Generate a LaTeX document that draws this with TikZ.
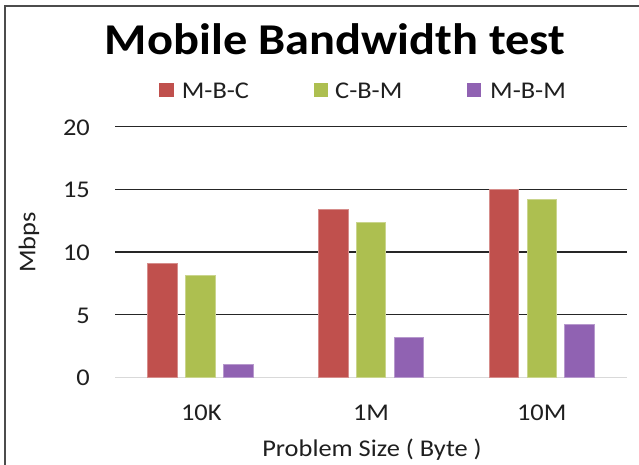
\documentclass[tikz,border=0pt]{standalone}
\usepackage{fontspec}
\setmainfont{Carlito}[FakeStretch=1.1]
\definecolor{cred}{HTML}{C0504D}
\definecolor{cgreen}{HTML}{ADBF50}
\definecolor{cpurple}{HTML}{9062B2}
\begin{document}
\begin{tikzpicture}[x=1pt,y=-1pt,
  lbl/.style={font=\fontsize{24}{28}\selectfont, inner sep=0pt, text=black!88},
  gridline/.style={line width=1.5pt, black!85},
  barbox/.style={line width=0.7pt},
  legsq/.style={minimum width=14.5pt, minimum height=13.5pt, inner sep=0pt}]
\useasboundingbox (0,0) rectangle (639,464);
\fill[white] (0,0) rectangle (639,464);
\begin{scope}
\clip (0,0) rectangle (639,464);
\draw[line width=1.5pt, black!70] (5,480) |- (660,6);
\end{scope}
% title
\node[font=\fontsize{44}{50}\selectfont\bfseries, anchor=base, inner sep=0pt] (title) at (335,54.3) {Mobile Bandwidth test};
% legend
\node[legsq, fill=cred] (sq1) at (166.6,90) {};
\node[lbl, anchor=base west] (l1) at (181.7,98.3) {M-B-C};
\node[legsq, fill=cgreen] (sq2) at (321.2,90) {};
\node[lbl, anchor=base west] (l2) at (335,98.3) {C-B-M};
\node[legsq, fill=cpurple] (sq3) at (473.9,90) {};
\node[lbl, anchor=base west] (l3) at (490,98.3) {M-B-M};
% grid
\foreach \v in {5,10,15,20}
  \draw[gridline] (115,{377.3-12.53*\v}) -- (626.7,{377.3-12.53*\v});
\draw[line width=1.5pt, black!15] (115,377.3) -- (626.7,377.3);
% tick labels
\foreach \v in {0,5,10,15,20}
  \node[lbl, anchor=base east] (t\v) at (90,{377.3-12.53*\v+8.4}) {\v};
% bars
\foreach \c/\a/\b/\d in {200.3/9.1/8.1/1.0, 371/13.4/12.4/3.2, 541.7/15.0/14.2/4.2} {
  \draw[barbox, fill=cred, draw=cred!65!white] ({\c-52.6},377.3) rectangle ({\c-23},{377.3-12.53*\a});
  \draw[barbox, fill=cgreen, draw=cgreen!65!white] ({\c-14.8},377.3) rectangle ({\c+14.8},{377.3-12.53*\b});
  \draw[barbox, fill=cpurple, draw=cpurple!65!white] ({\c+23},377.3) rectangle ({\c+52.6},{377.3-12.53*\d});
}
% category labels
\node[lbl, anchor=base] (c1) at (201.3,420.7) {10K};
\node[lbl, anchor=base] (c2) at (371,420.7) {1M};
\node[lbl, anchor=base] (c3) at (541.7,420.7) {10M};
% axis titles
\node[lbl, anchor=base] (xt) at (372,456.7) {Problem Size ( Byte )};
\node[lbl, rotate=90] (yt) at (29,242.5) {Mbps};
\end{tikzpicture}
\end{document}
